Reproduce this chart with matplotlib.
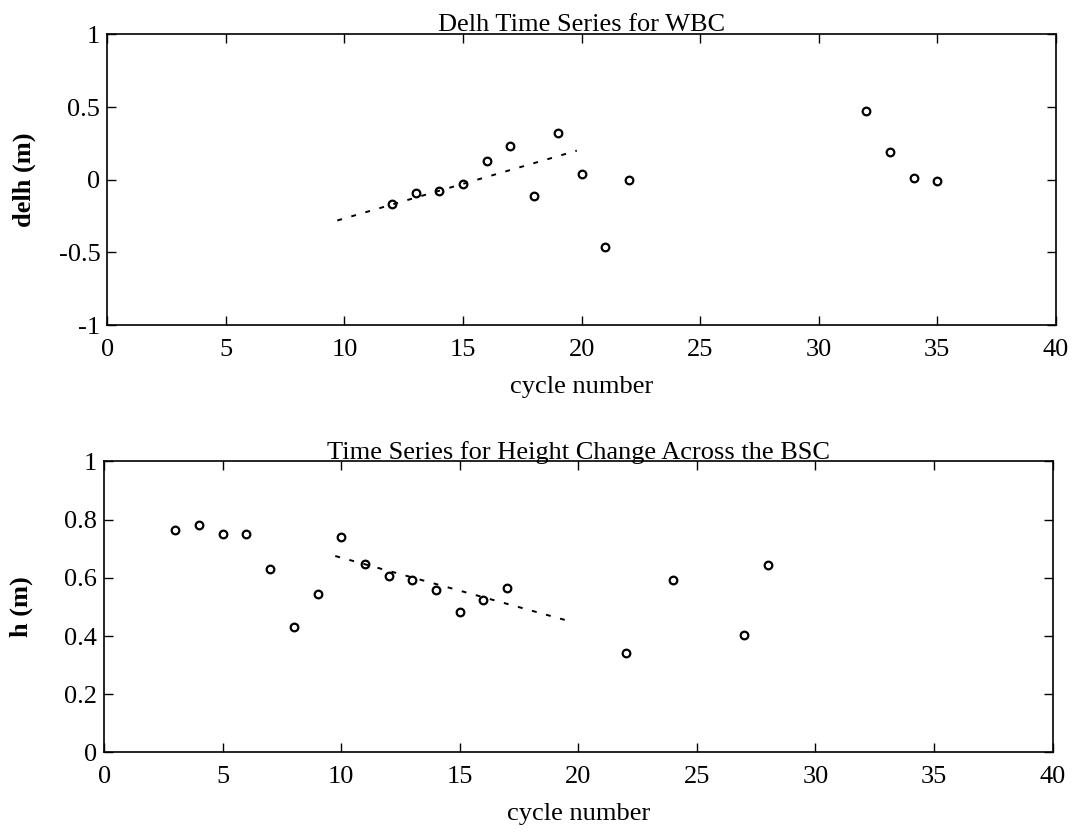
import numpy as np
import matplotlib.pyplot as plt

# top panel: delh time series for WBC
wbc_cycle = [12, 13, 14, 15, 16, 17, 18, 19, 20, 21, 22, 32, 33, 34, 35]
wbc_delh = [-0.17, -0.09, -0.08, -0.03, 0.13, 0.23, -0.11, 0.32, 0.04,
            -0.46, -0.005, 0.47, 0.19, 0.01, -0.01]
# fitted trend (end points)
wbc_fit_x = [9.7, 19.8]
wbc_fit_y = [-0.28, 0.20]

# bottom panel: height change across the BSC
bsc_cycle = [3, 4, 5, 6, 7, 8, 9, 10, 11, 12, 13, 14, 15, 16, 17,
             22, 24, 27, 28]
bsc_h = [0.764, 0.780, 0.749, 0.749, 0.632, 0.430, 0.544, 0.742, 0.647,
         0.606, 0.593, 0.559, 0.484, 0.524, 0.565,
         0.340, 0.591, 0.405, 0.643]
bsc_fit_x = [9.75, 19.8]
bsc_fit_y = [0.675, 0.447]

xticks = [0, 5, 10, 15, 20, 25, 30, 35, 40]

plt.rcParams['font.family'] = ['Liberation Serif', 'DejaVu Serif']
fs = 19

fig = plt.figure(figsize=(10.73, 8.36), dpi=100)
ax1 = fig.add_axes([0.100, 0.611, 0.884, 0.348])
ax2 = fig.add_axes([0.097, 0.100, 0.884, 0.348])


def style(ax, ylim, yticks, yticklabels):
    ax.set_xlim(0, 40)
    ax.set_ylim(*ylim)
    ax.set_xticks(xticks)
    ax.set_xticklabels([str(t) for t in xticks], fontsize=fs)
    ax.set_yticks(yticks)
    ax.set_yticklabels(yticklabels, fontsize=fs)
    ax.tick_params(direction='in', top=True, right=True, length=6.5,
                   width=1, color='black')
    ax.tick_params(axis='x', pad=10)
    ax.tick_params(axis='y', pad=5)
    for s in ax.spines.values():
        s.set_linewidth(1.2)
    ax.set_xlabel('cycle number', fontsize=fs)
    ax.xaxis.set_label_coords(0.5, -0.175)
    ax.yaxis.set_label_coords(-0.075, 0.5)


ax1.plot(wbc_cycle, wbc_delh, 'o', markersize=5.5, markeredgewidth=1.6,
         markeredgecolor='k', markerfacecolor='none')
ax1.plot(wbc_fit_x, wbc_fit_y, color='k', lw=1.4, dashes=(2.5, 5))
ax1.set_ylabel('delh (m)', fontsize=fs, fontweight='bold')
ax1.set_title('Delh Time Series for WBC', fontsize=fs, pad=2)
style(ax1, (-1, 1), [-1, -0.5, 0, 0.5, 1], ['-1', '-0.5', '0', '0.5', '1'])

ax2.plot(bsc_cycle, bsc_h, 'o', markersize=5.5, markeredgewidth=1.6,
         markeredgecolor='k', markerfacecolor='none')
ax2.plot(bsc_fit_x, bsc_fit_y, color='k', lw=1.4, dashes=(2.5, 5))
ax2.set_ylabel('h (m)', fontsize=fs, fontweight='bold')
ax2.set_title('Time Series for Height Change Across the BSC', fontsize=fs,
              pad=2)
style(ax2, (0, 1), [0, 0.2, 0.4, 0.6, 0.8, 1],
      ['0', '0.2', '0.4', '0.6', '0.8', '1'])

fig.savefig('out.png', dpi=100)
